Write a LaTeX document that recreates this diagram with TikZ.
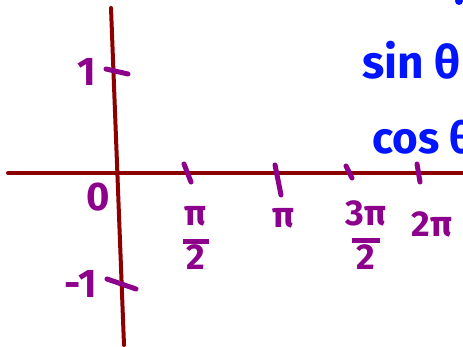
\documentclass[tikz,border=0pt]{standalone}
\usepackage{fontspec}
\setmainfont{Fira Sans}
\begin{document}
\begin{tikzpicture}[x=1pt,y=-1pt,
  axis/.style={draw=axisred,line width=4pt,line cap=round},
  penstroke/.style={draw=penpurple,line width=5pt,line cap=round},
  plabel/.style={text=penpurple,font=\fontsize{40}{40}\selectfont\bfseries,inner sep=0pt},
  flabel/.style={text=penpurple,font=\fontsize{36}{30}\selectfont\bfseries,inner sep=0pt,align=center},
  blabel/.style={text=penblue,font=\fontsize{46}{46}\selectfont\bfseries,inner sep=0pt,anchor=west}]
\definecolor{axisred}{RGB}{140,0,0}
\definecolor{penpurple}{RGB}{140,0,140}
\definecolor{penblue}{RGB}{0,20,255}
\useasboundingbox (0,0) rectangle (463,347);
\clip (0,0) rectangle (463,347);
% axes
\coordinate (xl) at (8,173); \coordinate (xr) at (470,173);
\coordinate (yt) at (111,8); \coordinate (yb) at (124,345);
\draw[axis] (xl) -- (xr);
\draw[axis] (yt) -- (yb);
% y ticks
\coordinate (t1a) at (106,69); \coordinate (t1b) at (128,74);
\draw[penstroke] (t1a) -- (t1b);
\node[plabel] (one) at (87,72) {1};
\coordinate (tm1a) at (107,279); \coordinate (tm1b) at (136,289);
\draw[penstroke] (tm1a) -- (tm1b);
\node[plabel] (mone) at (81,284) {-1};
\node[plabel] (zero) at (98,197) {0};
% x ticks
\coordinate (a1) at (184,164); \coordinate (a2) at (191,182);
\coordinate (b1) at (275,165); \coordinate (b2) at (281,195);
\coordinate (c1) at (346,166); \coordinate (c2) at (352,178);
\coordinate (d1) at (417,164); \coordinate (d2) at (420,182);
\draw[penstroke] (a1) -- (a2);
\draw[penstroke] (b1) -- (b2);
\draw[penstroke] (c1) -- (c2);
\draw[penstroke] (d1) -- (d2);
\node[flabel] (pihalf) at (196,238) {π\\[-12pt]\rule{26pt}{5pt}\\[-4pt]2};
\node[flabel] (pi) at (284,218) {π};
\node[flabel] (tpihalf) at (366,235) {3π\\[-12pt]\rule{28pt}{5pt}\\[-4pt]2};
\node[flabel] (twopi) at (432,224) {2π};
% blue text
\node[blabel] (sin) at (362,60) {sin θ};
\node[blabel,font=\fontsize{44}{44}\selectfont\bfseries] (cos) at (372,137) {cos θ};
\fill[penblue] (459,1) circle (4);
\end{tikzpicture}
\end{document}
